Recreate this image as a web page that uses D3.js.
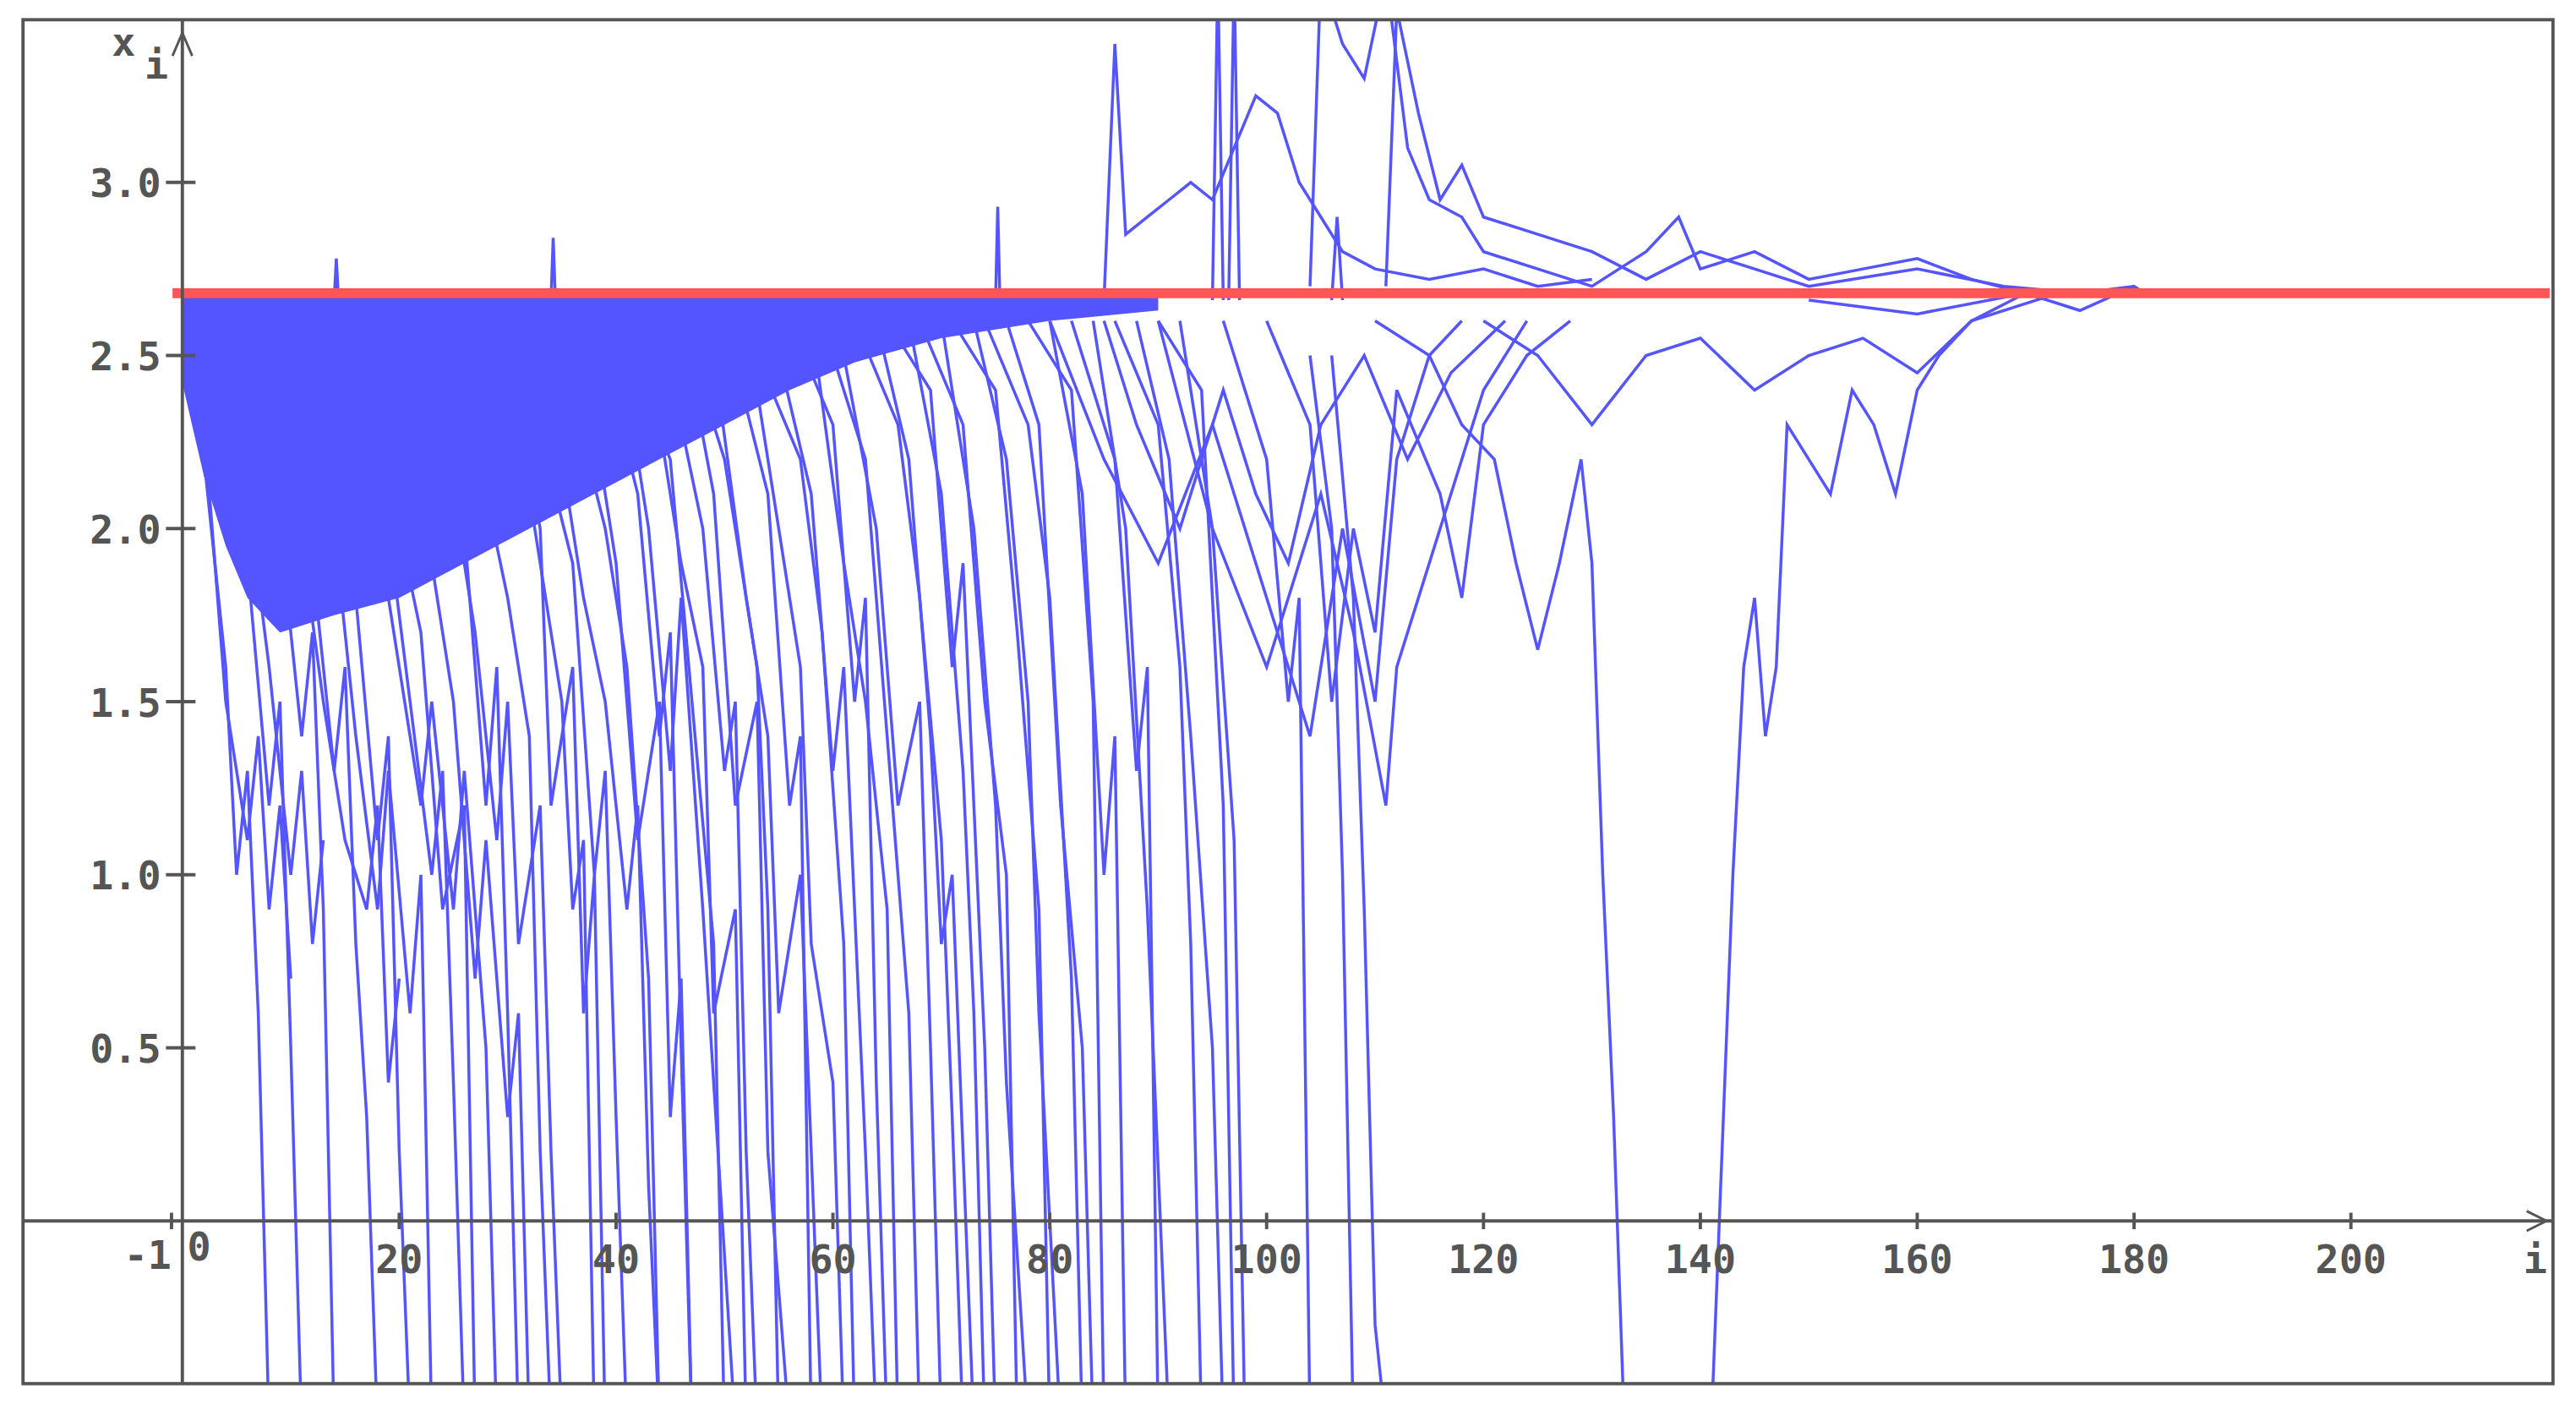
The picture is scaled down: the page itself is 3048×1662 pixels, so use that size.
<!DOCTYPE html>
<html><head><meta charset="utf-8">
<script src="https://cdn.jsdelivr.net/npm/d3@7"></script>
<style>body{margin:0;background:#fff}</style>
</head><body>
<div id="chart"></div>
<script>
// x ticks, y ticks
const xTicks = [20, 40, 60, 80, 100, 120, 140, 160, 180, 200];
const yTicks = [0.5, 1.0, 1.5, 2.0, 2.5, 3.0];
const limitValue = 2.68;

// dense band of overlapping walks near the limit
const bandTop = 2.67;
const bandLower = [[0,2.42],[2,2.15],[4,1.95],[6,1.8],[9,1.7],[14,1.75],[20,1.8],[26,1.9],[32,2.0],[38,2.1],[44,2.2],[50,2.3],[56,2.4],[62,2.48],[70,2.55],[80,2.6],[90,2.63]];

// walks that drop through the bottom
const drops = [
  [[0,2.6],[2,2.2],[4,1.6],[5,1.0],[6,1.3],[7,0.6],[8,-0.6]],
  [[3,2.5],[6,1.9],[8,1.2],[9,1.5],[10,0.5],[11,-0.6]],
  [[5,2.4],[9,2.0],[11,1.4],[12,1.7],[13,0.9],[14,-0.6]],
  [[8,2.5],[12,1.9],[14,1.3],[15,1.6],[16,0.8],[17,0.3],[18,-0.6]],
  [[12,2.4],[16,1.8],[18,1.1],[19,1.4],[20,0.2],[21,-0.6]],
  [[15,2.5],[19,2.0],[21,1.5],[23,1.0],[24,1.3],[25,0.4],[26,-0.6]],
  [[18,2.3],[22,1.7],[24,0.9],[26,1.2],[27,-0.6]],
  [[22,2.5],[26,2.0],[28,1.2],[29,1.6],[30,0.6],[31,-0.6]],
  [[26,2.4],[30,1.8],[32,1.4],[33,0.2],[34,-0.6]],
  [[28,2.6],[32,2.1],[35,1.5],[36,0.9],[37,1.1],[38,-0.6]],
  [[32,2.4],[36,1.9],[38,1.0],[39,1.3],[40,0.3],[41,-0.6]],
  [[35,2.5],[39,2.0],[41,1.6],[43,0.7],[44,-0.6]],
  [[38,2.6],[42,2.1],[44,1.4],[45,1.7],[46,0.5],[47,-0.6]],
  [[41,2.5],[45,2.2],[47,1.5],[49,0.8],[50,-0.6]],
  [[44,2.6],[48,2.0],[50,1.3],[51,1.5],[52,0.2],[53,-0.6]],
  [[47,2.5],[50,2.2],[53,1.6],[54,0.9],[55,-0.6]],
  [[50,2.6],[54,2.1],[56,1.2],[57,1.4],[58,-0.6]],
  [[53,2.5],[57,2.2],[59,1.7],[61,0.8],[62,-0.6]],
  [[56,2.6],[60,2.3],[62,1.5],[63,1.8],[64,0.4],[65,-0.6]],
  [[59,2.6],[63,2.2],[65,1.4],[67,0.6],[68,-0.6]],
  [[62,2.6],[66,2.3],[68,1.8],[70,1.1],[71,0.3],[72,-0.6]],
  [[65,2.6],[69,2.4],[71,1.6],[72,1.9],[74,0.5],[75,-0.6]],
  [[68,2.6],[72,2.3],[74,1.5],[76,1.0],[77,-0.6]],
  [[71,2.6],[75,2.4],[77,1.7],[79,0.9],[80,-0.6]],
  [[74,2.6],[78,2.3],[80,1.8],[82,0.7],[83,-0.6]],
  [[78,2.6],[82,2.4],[84,1.5],[85,-0.6]],
  [[82,2.6],[86,2.2],[88,1.3],[89,1.6],[90,-0.6]],
  [[86,2.6],[90,2.3],[92,1.6],[93,0.8],[94,-0.6]],
  [[90,2.6],[94,2.4],[96,1.2],[97,-0.6]],
  [[96,2.6],[100,2.2],[102,1.5],[103,1.8],[104,-0.6]],
  [[104,2.5],[106,2.0],[107,1.0],[108,-0.6]],
  [[106,2.5],[108,1.8],[109,0.9],[110,-0.3],[111,-0.6]],
  [[2,2.3],[4,1.5],[6,1.1],[7,1.4],[8,0.9],[9,1.2],[10,0.7]],
  [[6,2.1],[8,1.6],[10,1.0],[11,1.3],[12,0.8],[13,1.1]],
  [[10,2.2],[13,1.5],[15,1.1],[17,0.9],[18,1.2],[19,0.4],[20,0.7]],
  [[14,2.0],[16,1.4],[18,0.9],[19,1.3],[21,0.6],[22,1.0],[23,-0.6]],
  [[17,2.2],[20,1.6],[22,1.2],[23,1.5],[25,0.9],[26,1.3],[28,0.5],[29,-0.6]],
  [[20,2.4],[23,1.9],[25,1.5],[27,0.7],[28,1.1],[30,0.3],[31,0.6],[32,-0.6]],
  [[24,2.3],[27,1.7],[29,1.1],[30,1.5],[31,0.8],[33,1.2],[34,0.2],[35,-0.6]],
  [[30,2.5],[33,2.0],[34,1.2],[36,1.6],[37,0.6],[38,1.0],[39,-0.6]],
  [[34,2.4],[37,1.8],[39,1.5],[41,0.9],[42,1.2],[43,0.1],[44,-0.6]],
  [[37,2.5],[40,1.9],[42,1.1],[44,1.5],[45,0.3],[46,0.7],[47,-0.6]],
  [[40,2.6],[43,2.0],[45,1.3],[46,1.8],[48,0.9],[49,0.4],[51,-0.6]],
  [[43,2.5],[46,1.9],[48,1.6],[49,0.6],[51,0.9],[52,-0.6]],
  [[46,2.6],[49,2.1],[51,1.2],[53,1.5],[54,0.2],[56,-0.6]],
  [[49,2.5],[52,1.8],[54,1.4],[55,0.6],[57,1.0],[59,-0.6]],
  [[52,2.6],[55,2.0],[57,1.6],[58,0.8],[60,0.4],[61,-0.6]],
  [[55,2.5],[58,2.1],[60,1.3],[61,1.6],[63,0.2],[64,-0.6]],
  [[58,2.6],[61,1.9],[63,1.5],[65,0.9],[66,-0.6]],
  [[61,2.5],[64,2.0],[66,1.2],[68,1.5],[69,0.5],[70,-0.6]],
  [[64,2.6],[67,2.2],[69,1.4],[70,0.8],[71,1.0],[73,-0.6]],
  [[67,2.6],[70,2.1],[72,1.3],[73,0.6],[74,-0.6]],
  [[70,2.6],[73,2.0],[75,1.2],[76,0.4],[78,-0.6]],
  [[73,2.6],[76,2.2],[78,1.5],[79,0.6],[81,-0.6]],
  [[76,2.6],[79,2.3],[81,1.2],[83,0.5],[84,-0.6]],
  [[80,2.6],[83,2.1],[85,1.0],[86,1.4],[87,-0.6]],
  [[84,2.6],[87,2.0],[89,0.9],[91,-0.6]],
  [[88,2.6],[91,2.2],[93,1.4],[95,0.5],[96,-0.6]],
  [[92,2.6],[95,2.0],[97,1.1],[98,-0.6]]
];

// walks hovering in the middle
const wanders = [
  [[80,2.6],[85,2.2],[90,1.9],[95,2.3],[100,1.8],[104,1.4],[107,2.0],[110,1.5],[112,2.2],[115,2.5],[118,2.6]],
  [[90,2.6],[95,2.0],[100,1.6],[105,2.1],[108,1.7],[111,1.2],[112,1.6],[116,2.0],[120,2.4],[124,2.6]],
  [[110,2.6],[115,2.5],[118,2.3],[121,2.2],[123,1.9],[125,1.65],[127,1.9],[129,2.2],[130,1.9],[131,1.0],[132,0.3],[133,-0.6]],
  [[141,-0.6],[142,0.2],[143,1.0],[144,1.6],[145,1.8],[146,1.4],[147,1.6],[148,2.3],[150,2.2],[152,2.1],[154,2.4],[156,2.3],[158,2.1],[160,2.4],[162,2.5],[165,2.6],[170,2.68]],
  [[120,2.6],[125,2.5],[130,2.3],[135,2.5],[140,2.55],[145,2.4],[150,2.5],[155,2.55],[160,2.45],[165,2.6],[172,2.67]],
  [[100,2.6],[104,2.3],[106,1.5],[108,2.0],[110,1.7],[112,2.4],[116,2.1],[118,1.8],[120,2.3],[124,2.5],[128,2.6]],
  [[85,2.6],[88,2.3],[92,2.0],[96,2.4],[99,2.1],[102,1.9],[105,2.3],[109,2.5],[113,2.2],[117,2.45],[122,2.6]]
];

// walks going above the limit
const uppers = [
  [[85,2.66],[86,3.4],[87,2.85],[89,2.9],[91,2.95],[93,3.0],[95,2.95],[97,3.1],[99,3.25],[101,3.2],[103,3.0],[105,2.9],[107,2.8],[110,2.75],[115,2.72],[120,2.75],[125,2.7],[130,2.72]],
  [[104,2.7],[105,3.6],[107,3.4],[109,3.3],[111,3.6],[113,3.1],[115,2.95],[118,2.9],[120,2.8],[125,2.75],[130,2.7],[135,2.8],[138,2.9],[140,2.75],[145,2.8],[150,2.72],[155,2.75],[160,2.78],[165,2.72],[170,2.68]],
  [[111,2.7],[112,3.5],[114,3.2],[116,2.95],[118,3.05],[120,2.9],[125,2.85],[130,2.8],[135,2.72],[140,2.8],[145,2.75],[150,2.7],[160,2.75],[168,2.7],[175,2.68],[180,2.7]],
  [[150,2.66],[160,2.62],[170,2.68],[175,2.63],[180,2.7],[181,2.68]],
  [[14,2.66],[14.2,2.78],[14.4,2.66]],
  [[34,2.66],[34.2,2.84],[34.4,2.66]],
  [[75,2.66],[75.2,2.93],[75.4,2.66]],
  [[95,2.66],[95.5,3.6],[96,2.66]],
  [[96.5,2.66],[97,3.6],[97.5,2.66]],
  [[106,2.66],[106.5,2.9],[107,2.66]]
];

const W = 1568, H = 855;
const frame = {left: 14, top: 12, right: 1554, bottom: 842};
const x = d3.scaleLinear().domain([0, 200]).range([111, 1431]);
const y = d3.scaleLinear().domain([0, 3]).range([743, 111]);
const gray = '#555';
const blue = '#5555ff';

const svg = d3.select('#chart').append('svg')
  .attr('width', 3048).attr('height', 1662)
  .attr('viewBox', `0 0 ${W} ${H}`);

svg.append('defs').append('clipPath').attr('id', 'clip')
  .append('rect').attr('x', frame.left).attr('y', frame.top)
  .attr('width', frame.right - frame.left).attr('height', frame.bottom - frame.top);

const plot = svg.append('g').attr('clip-path', 'url(#clip)');

const area = d3.area().x(d => x(d[0])).y0(d => y(d[1])).y1(y(bandTop));
plot.append('path').datum(bandLower).attr('d', area).attr('fill', blue);

const line = d3.line().x(d => x(d[0])).y(d => y(d[1]));
plot.selectAll('.walk').data([...drops, ...wanders, ...uppers]).join('path')
  .attr('class', 'walk').attr('d', line)
  .attr('fill', 'none').attr('stroke', blue).attr('stroke-width', 1.8);

// limit line
plot.append('line').attr('x1', 105).attr('x2', frame.right - 2)
  .attr('y1', y(limitValue)).attr('y2', y(limitValue))
  .attr('stroke', '#ff5555').attr('stroke-width', 6);

// axes
const ax = svg.append('g').attr('stroke', gray).attr('stroke-width', 2);
ax.append('line').attr('x1', x(0)).attr('x2', x(0)).attr('y1', frame.top).attr('y2', frame.bottom);
ax.append('line').attr('x1', frame.left).attr('x2', frame.right).attr('y1', y(0)).attr('y2', y(0));
ax.append('path').attr('fill', 'none').attr('stroke-width', 1.5)
  .attr('d', `M${x(0)-6},${frame.top+22}L${x(0)},${frame.top+8}L${x(0)+6},${frame.top+22}`);
ax.append('path').attr('fill', 'none').attr('stroke-width', 1.5)
  .attr('d', `M${frame.right-16},${y(0)-6}L${frame.right-4},${y(0)}L${frame.right-16},${y(0)+6}`);
ax.selectAll('.yt').data(yTicks).join('line')
  .attr('x1', x(0) - 10).attr('x2', x(0) + 8).attr('y1', d => y(d)).attr('y2', d => y(d));
ax.selectAll('.xt').data([-1, ...xTicks]).join('line')
  .attr('x1', d => x(d)).attr('x2', d => x(d)).attr('y1', y(0) - 5).attr('y2', y(0) + 5);

const txt = svg.append('g').attr('fill', gray)
  .style('font-family', 'DejaVu Sans Mono').style('font-weight', 'bold').style('font-size', '24px');
txt.selectAll('.yl').data(yTicks).join('text')
  .attr('x', 98).attr('y', d => y(d) + 9).attr('text-anchor', 'end')
  .text(d => d.toFixed(1));
txt.selectAll('.xl').data(xTicks).join('text')
  .attr('x', d => x(d)).attr('y', y(0) + 32).attr('text-anchor', 'middle').text(d => d);
txt.append('text').attr('x', x(-1)).attr('y', y(0) + 29).attr('text-anchor', 'end').text('-1');
txt.append('text').attr('x', x(0) + 3).attr('y', y(0) + 24).text('0');
txt.append('text').attr('x', 1536).attr('y', y(0) + 32).text('i');
txt.append('text').attr('x', 68).attr('y', 34).text('x');
txt.append('text').attr('x', 88).attr('y', 48).text('i');

// frame
svg.append('rect').attr('x', frame.left).attr('y', frame.top)
  .attr('width', frame.right - frame.left).attr('height', frame.bottom - frame.top)
  .attr('fill', 'none').attr('stroke', gray).attr('stroke-width', 2);
</script>
</body></html>
